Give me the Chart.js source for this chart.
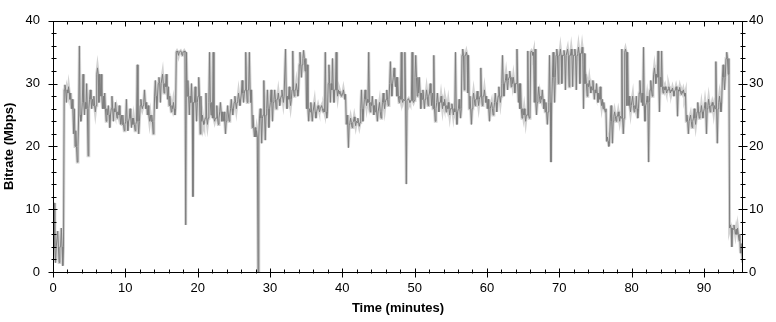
<!DOCTYPE html>
<html>
<head>
<meta charset="utf-8">
<title>Bitrate</title>
<script src="https://cdn.jsdelivr.net/npm/chart.js@4/dist/chart.umd.min.js"></script>
<style>
  html, body { margin: 0; padding: 0; background: #fff; }
  canvas { display: block; }
</style>
</head>
<body>
<canvas id="bitrateChart" width="776" height="322"></canvas>
<script>
// Bitrate, per half-minute slice:
// typical level, and the lowest / highest excursion inside the slice
const sliceMinutes = 0.5;
const levelMbps = [
  4, 4, 4, 29, 28.5, 26, 20, 25, 27, 26,
  27.5, 26.5, 31.5, 28, 26, 25, 26, 25.5, 25, 23.5,
  24, 24.5, 23.5, 24, 26.5, 27, 25, 24, 28, 30,
  30, 29.5, 26.5, 26, 35, 35, 35, 28, 27, 27,
  28, 24, 24.5, 27, 24.5, 24.5, 25.5, 24, 25, 26,
  27, 27.5, 28.5, 29, 29, 23, 21.5, 24.5, 25, 26,
  27, 27.5, 27.5, 28, 28, 27.5, 29, 29, 33, 34,
  26, 25.5, 25.5, 26, 26, 25.5, 30, 29, 29, 28.4,
  28.3, 23.5, 23.8, 24, 23.8, 26, 27.5, 27, 26.5, 25.5,
  25.5, 27, 27.5, 30, 31, 28, 27.5, 27.3, 27.3, 27.3,
  31, 28.5, 27.5, 28, 28.5, 26, 27, 27, 26.5, 26,
  26, 25.5, 26, 34.5, 34.5, 26, 27.5, 27.5, 28, 28,
  26, 26, 27, 28, 30, 30.5, 31, 30, 30, 26,
  25, 25, 35, 27, 28, 27.5, 25.5, 27, 31, 34.5,
  34.5, 34.5, 34.5, 34.5, 34.5, 34.8, 34.8, 30, 29.5, 29,
  28.5, 27.5, 26, 20.8, 24, 24.8, 24.8, 24.5, 35, 26.5,
  26.5, 26, 28.5, 26.5, 27, 29, 31.5, 31, 29.5, 29,
  29, 28.8, 29, 28.8, 28.5, 24, 24, 24.5, 25.5, 25.5,
  26, 26.5, 26.5, 26, 27, 31, 34, 7, 6.8, 6,
  3
];
const lowMbps = [
  1.5, 1.5, 1, 27, 27.5, 22, 17.5, 24, 25, 18.5,
  26, 25.5, 27, 26, 24, 23, 24, 24.5, 23.5, 22.5,
  22.5, 23, 22.5, 22, 26, 26, 24, 22, 26, 27,
  28.5, 27.5, 25.5, 25, 34.5, 34.5, 7.5, 25, 12, 24,
  22, 23.5, 23.5, 25, 24, 23.5, 24, 22, 24, 25,
  26, 26.5, 27, 27, 27, 21.5, 0, 20.5, 21, 23,
  24, 26, 26.5, 27, 26, 26.5, 28, 28, 31, 32,
  24, 24, 24.5, 25.5, 25.5, 24.5, 27, 27, 28, 28,
  27.5, 19.8, 23, 23.3, 23.2, 24, 26.5, 25.5, 25, 24,
  24.5, 26, 26.5, 28, 29.5, 27, 27, 14, 27, 27,
  28, 26, 26, 26.5, 26.5, 24, 25.5, 26, 25.5, 25,
  25, 23.5, 24.5, 29, 28.5, 23.5, 26.5, 26.5, 26.5, 27,
  24, 25, 25.5, 27, 28, 29, 29.5, 28.5, 27, 24.5,
  24, 24.5, 34.5, 25, 27, 26, 23.5, 17.5, 27, 30,
  30, 29, 29.5, 29.5, 29, 30, 26, 28, 28.5, 27.5,
  27, 26.5, 25.5, 20, 20.5, 24, 24, 22, 26.5, 25.5,
  25.5, 24.5, 27, 24, 17.5, 28, 30, 25.5, 28.5, 28.5,
  28.5, 28, 24.8, 28.3, 28, 22, 23, 23.5, 24.5, 24.5,
  22, 25.5, 25.5, 20.5, 25.5, 29, 31.5, 4, 6, 5,
  1.5
];
const highMbps = [
  11, 6.5, 7, 29.8, 29.5, 27.5, 22.5, 36, 31.5, 30,
  29, 28, 32.5, 31.5, 28.5, 26.5, 28, 27, 26.5, 25,
  27.5, 26, 24.5, 33, 27.5, 29, 26.5, 25, 30.5, 31,
  31.5, 31.5, 28, 27, 35.2, 35.2, 35.2, 30.5, 30, 29.5,
  31, 25, 28.5, 35, 35, 26.5, 27, 25.5, 26.5, 27.5,
  28, 28.5, 30.5, 35, 35, 25, 22.5, 26, 30.5, 29,
  29, 29, 28.5, 29, 35.5, 29.5, 35.2, 30, 35, 35.3,
  33, 27, 27, 26.5, 26.5, 35, 33, 34, 35, 28.8,
  29, 25, 24.5, 24.7, 24.5, 29, 29, 35, 28, 27.5,
  27, 28.5, 29, 33.5, 32.5, 31, 35, 35, 27.6, 35,
  34.5, 31, 29, 29, 30, 34.5, 28.5, 28, 27.5, 27,
  26.8, 35, 27.5, 35.5, 35, 28, 28.5, 28.8, 32.5, 29,
  27.5, 27, 28.5, 29.5, 34.5, 31.5, 32, 31, 35.5, 30,
  26, 35.2, 35.2, 35.5, 29.5, 29, 27, 34.5, 35, 35.5,
  35.5, 35.3, 35.5, 35.5, 35.5, 35.8, 35.8, 31.5, 30.5, 30.5,
  30, 29.5, 27, 21.5, 26.5, 25.5, 25.5, 35.5, 35.5, 28,
  28, 28, 30.5, 35.8, 28, 30.5, 32.5, 35.2, 35.2, 29.5,
  29.5, 29.3, 29.5, 29.4, 29, 25, 25, 26, 27, 26.5,
  27, 27.5, 27, 33.5, 28, 33, 35, 7.5, 7.5, 7,
  4.5
];

const xTicks = [0, 10, 20, 30, 40, 50, 60, 70, 80, 90];
const yTicks = [0, 10, 20, 30, 40];
const xEnd = 95.4;

// inside each slice the trace sits at its level and flicks up to the high and down to the low
const tracePoints = [];
levelMbps.forEach((level, i) => {
  const t = i * sliceMinutes;
  tracePoints.push({ x: t + 0.05, y: level });
  tracePoints.push({ x: t + 0.15, y: highMbps[i] });
  tracePoints.push({ x: t + 0.25, y: level });
  tracePoints.push({ x: t + 0.35, y: lowMbps[i] });
  tracePoints.push({ x: t + 0.45, y: level });
});

const labelFont = { family: "'Liberation Sans', Arial, sans-serif", size: 13 };
const titleFont = { family: "'Liberation Sans', Arial, sans-serif", size: 13, weight: 'bold' };

// frame and tick marks (major crossing the axis, minor every 2 units)
const axisFrame = {
  id: 'axisFrame',
  afterDraw(chart) {
    const { ctx, chartArea: a, scales: { x, y } } = chart;
    const L = Math.round(a.left) + 0.5, R = Math.round(a.right) - 0.5;
    const T = Math.round(a.top) + 0.5, B = Math.round(a.bottom) + 0.5;
    ctx.save();
    ctx.strokeStyle = '#000';
    ctx.lineWidth = 1;
    ctx.beginPath();
    ctx.moveTo(L, T); ctx.lineTo(R, T); ctx.lineTo(R, B); ctx.lineTo(L, B); ctx.closePath();

    for (let v = 0; v <= xEnd; v += 2) {
      const px = Math.round(x.getPixelForValue(v)) + 0.5;
      const major = v % 10 === 0;
      ctx.moveTo(px, B - (major ? 4 : 3)); ctx.lineTo(px, B + (major ? 5 : 1));
      ctx.moveTo(px, T); ctx.lineTo(px, T + (major ? 5 : 3));
    }
    for (let v = 0; v <= 40; v += 2) {
      const py = Math.round(y.getPixelForValue(v)) + 0.5;
      const major = v % 10 === 0;
      ctx.moveTo(L - (major ? 5 : 2), py); ctx.lineTo(L + (major ? 4 : 3), py);
      ctx.moveTo(R - (major ? 4 : 2), py); ctx.lineTo(R + (major ? 5 : 3), py);
    }
    ctx.stroke();
    ctx.restore();
  }
};

new Chart(document.getElementById('bitrateChart').getContext('2d'), {
  type: 'line',
  data: {
    datasets: [{
      label: 'Bitrate',
      data: tracePoints,
      borderColor: '#7e7e7e',
      borderWidth: 1,
      pointRadius: 0,
      tension: 0,
      order: 1
    }, {
      label: 'Bitrate halo',
      data: tracePoints,
      borderColor: '#d2d2d2',
      borderWidth: 3,
      pointRadius: 0,
      tension: 0,
      order: 2
    }]
  },
  options: {
    responsive: false,
    animation: false,
    events: [],
    layout: { padding: { top: 10, left: 0, right: 0, bottom: 0 } },
    plugins: { legend: { display: false }, tooltip: { enabled: false } },
    scales: {
      x: {
        type: 'linear',
        min: 0,
        max: xEnd,
        afterBuildTicks: s => { s.ticks = xTicks.map(v => ({ value: v })); },
        afterFit: s => { s.height = 50; },
        grid: { display: false, drawTicks: false },
        border: { display: false },
        ticks: { color: '#000', font: labelFont, padding: 9, maxRotation: 0 },
        title: { display: true, text: 'Time (minutes)', color: '#000', font: titleFont, padding: { top: 0, bottom: 6 } }
      },
      y: {
        position: 'left',
        min: 0,
        max: 40,
        afterBuildTicks: s => { s.ticks = yTicks.map(v => ({ value: v })); },
        afterFit: s => { s.width = 53; },
        grid: { display: false, drawTicks: false },
        border: { display: false },
        ticks: { color: '#000', font: labelFont, padding: 13 },
        title: { display: true, text: 'Bitrate (Mbps)', color: '#000', font: titleFont, padding: { top: 2, bottom: 0 } }
      },
      y2: {
        position: 'right',
        min: 0,
        max: 40,
        afterBuildTicks: s => { s.ticks = yTicks.map(v => ({ value: v })); },
        afterFit: s => { s.width = 33; },
        grid: { display: false, drawTicks: false },
        border: { display: false },
        ticks: { color: '#000', font: labelFont, padding: 6 }
      }
    }
  },
  plugins: [axisFrame]
});
</script>
</body>
</html>
